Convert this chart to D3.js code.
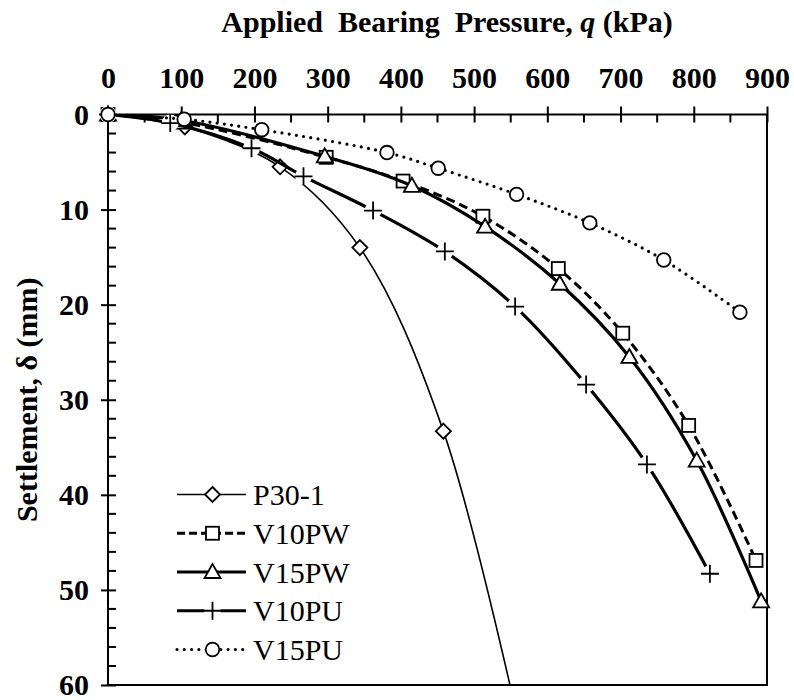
<!DOCTYPE html>
<html>
<head>
<meta charset="utf-8">
<script src="https://cdn.jsdelivr.net/npm/d3@7"></script>
<style>
  body { margin: 0; background: #fff; }
  svg text { font-family: "Liberation Serif", "Times New Roman", serif; fill: #000; }
</style>
</head>
<body>
<script>
// valeurs (q en kPa, tassement en mm)
const xTicks = [0, 100, 200, 300, 400, 500, 600, 700, 800, 900];
const yTicks = [0, 10, 20, 30, 40, 50, 60];
const seriesNames = ["P30-1", "V10PW", "V15PW", "V10PU", "V15PU"];

// la derniere valeur de P30-1 sort du cadre (courbe coupee en bas)
const qP30 = [0, 105, 235, 344, 458, 595];
const dP30 = [0, 1.3, 5.5, 14.0, 33.3, 76];

const qV10PW = [0, 100, 298, 403, 512, 615, 703, 793, 885];
const dV10PW = [0, 0.8, 4.5, 7.0, 10.7, 16.2, 23.0, 32.7, 46.9];

const qV15PW = [0, 100, 296, 415, 515, 617, 712, 804, 892];
const dV15PW = [0, 0.6, 4.4, 7.5, 11.8, 17.8, 25.5, 36.4, 51.2];

const qV10PU = [0, 85, 196, 267, 362, 460, 556, 653, 736, 822];
const dV10PU = [0, 0.9, 3.55, 6.5, 10.1, 14.4, 20.2, 28.4, 36.8, 48.3];

const qV15PU = [0, 104, 210, 381, 451, 558, 658, 759, 863];
const dV15PU = [0, 0.5, 1.6, 4.0, 5.65, 8.4, 11.4, 15.3, 20.8];

const width = 794, height = 700;
const plot = { left: 108, right: 767, top: 114.5, bottom: 685 };
const serif = "'Liberation Serif', 'Times New Roman', serif";

const x = d3.scaleLinear().domain([0, 900]).range([plot.left, plot.right]);
const y = d3.scaleLinear().domain([0, 60]).range([plot.top, plot.bottom]);

const styles = {
    "P30-1": { marker: "diamond", width: 1.6, dash: null },
    "V10PW": { marker: "square", width: 3, dash: "9 5" },
    "V15PW": { marker: "triangle", width: 3.2, dash: null },
    "V10PU": { marker: "plus", width: 3.2, dash: null },
    "V15PU": { marker: "circle", width: 3.2, dash: "0 7.3" }
};

const allQ = [qP30, qV10PW, qV15PW, qV10PU, qV15PU];
const allD = [dP30, dV10PW, dV15PW, dV10PU, dV15PU];

let data = seriesNames.map((name, i) => ({
    name: name,
    points: allQ[i].map((q, j) => ({ q: q, d: allD[i][j] }))
}));

let svg = d3.select("body")
    .append("svg")
    .attr("width", width)
    .attr("height", height)
    .attr("font-family", serif);

svg.append("defs").append("clipPath")
    .attr("id", "clip")
    .append("rect")
    .attr("x", plot.left)
    .attr("y", plot.top)
    .attr("width", plot.right - plot.left)
    .attr("height", plot.bottom - plot.top);

////////Titres
let title = svg.append("text")
    .attr("x", 447)
    .attr("y", 32)
    .attr("text-anchor", "middle")
    .attr("font-size", 30)
    .attr("font-weight", "bold")
    .style("white-space", "pre");
title.append("tspan").text("Applied  Bearing  Pressure, ");
title.append("tspan").attr("font-style", "italic").text("q");
title.append("tspan").text(" (kPa)");

svg.append("text")
    .attr("transform", "translate(37," + ((plot.top + plot.bottom) / 2) + ") rotate(-90)")
    .attr("text-anchor", "middle")
    .attr("font-size", 30)
    .attr("font-weight", "bold")
    .text("Settlement, \u03b4 (mm)");

////////Axes
let xAxis = svg.append("g")
    .attr("transform", "translate(0," + plot.top + ")")
    .call(d3.axisTop(x).tickValues(xTicks).tickSize(8).tickFormat(d3.format("d")))
    .attr("font-family", serif)
    .attr("font-size", 30);
xAxis.select(".domain").remove();
xAxis.selectAll(".tick line").attr("y1", 8).attr("stroke-width", 2);
xAxis.selectAll(".tick text")
    .attr("y", -27)
    .attr("dy", 0)
    .attr("font-weight", "bold");

let xMinor = d3.range(50, 900, 100);
svg.selectAll(".xminor")
    .data(xMinor)
    .enter()
    .append("line")
    .attr("x1", d => x(d)).attr("x2", d => x(d))
    .attr("y1", plot.top).attr("y2", plot.top + 8)
    .attr("stroke", "#000").attr("stroke-width", 2);

let yAxis = svg.append("g")
    .attr("transform", "translate(" + plot.left + ",0)")
    .call(d3.axisLeft(y).tickValues(yTicks).tickSize(7))
    .attr("font-family", serif)
    .attr("font-size", 30);
yAxis.select(".domain").remove();
yAxis.selectAll(".tick line").attr("x1", 8).attr("x2", -7).attr("stroke-width", 2);
yAxis.selectAll(".tick text")
    .attr("x", -19)
    .attr("dy", "0.32em")
    .attr("font-weight", "bold");

let yMinor = d3.range(2, 60, 2).filter(d => d % 10 != 0);
svg.selectAll(".yminor")
    .data(yMinor)
    .enter()
    .append("line")
    .attr("x1", plot.left).attr("x2", plot.left + 8)
    .attr("y1", d => y(d)).attr("y2", d => y(d))
    .attr("stroke", "#000").attr("stroke-width", 2);

// cadre
svg.append("rect")
    .attr("x", plot.left)
    .attr("y", plot.top)
    .attr("width", plot.right - plot.left)
    .attr("height", plot.bottom - plot.top)
    .attr("fill", "none")
    .attr("stroke", "#000")
    .attr("stroke-width", 2);

////////Marqueurs
function drawMarker(g, type, cx, cy) {
    if (type == "diamond") {
        g.append("path")
            .attr("d", `M${cx},${cy - 7.5}L${cx + 7.5},${cy}L${cx},${cy + 7.5}L${cx - 7.5},${cy}Z`)
            .attr("fill", "#fff").attr("stroke", "#000").attr("stroke-width", 1.8);
    } else if (type == "square") {
        g.append("rect")
            .attr("x", cx - 6.5).attr("y", cy - 6.5)
            .attr("width", 13).attr("height", 13)
            .attr("fill", "#fff").attr("stroke", "#000").attr("stroke-width", 1.8);
    } else if (type == "triangle") {
        g.append("path")
            .attr("d", `M${cx},${cy - 8}L${cx + 8},${cy + 6}L${cx - 8},${cy + 6}Z`)
            .attr("fill", "#fff").attr("stroke", "#000").attr("stroke-width", 1.8);
    } else if (type == "plus") {
        g.append("circle")
            .attr("cx", cx).attr("cy", cy).attr("r", 8.5)
            .attr("fill", "#fff");
        g.append("path")
            .attr("d", `M${cx - 9},${cy}H${cx + 9}M${cx},${cy - 9}V${cy + 9}`)
            .attr("stroke", "#000").attr("stroke-width", 1.8);
    } else if (type == "circle") {
        g.append("circle")
            .attr("cx", cx).attr("cy", cy).attr("r", 6.8)
            .attr("fill", "#fff").attr("stroke", "#000").attr("stroke-width", 1.8);
    }
}

////////Courbes
let line = d3.line()
    .x(d => x(d.q))
    .y(d => y(d.d))
    .curve(d3.curveCatmullRom.alpha(0.5));

data.forEach(s => {
    let st = styles[s.name];
    let g = svg.append("g");

    g.append("path")
        .datum(s.points)
        .attr("clip-path", "url(#clip)")
        .attr("d", line)
        .attr("fill", "none")
        .attr("stroke", "#000")
        .attr("stroke-width", st.width)
        .attr("stroke-linecap", s.name == "V15PU" ? "round" : "butt")
        .attr("stroke-dasharray", st.dash);

    s.points
        .filter(p => p.q <= 900 && p.d <= 60)
        .forEach(p => drawMarker(g, st.marker, x(p.q), y(p.d)));
});

////////Legende
let legend = svg.append("g");
let rowY = d3.scaleLinear().domain([0, 4]).range([494.5, 649.5]);

data.forEach((s, i) => {
    let st = styles[s.name];
    let ly = rowY(i);
    let g = legend.append("g");

    g.append("line")
        .attr("x1", 177).attr("x2", 246)
        .attr("y1", ly).attr("y2", ly)
        .attr("stroke", "#000")
        .attr("stroke-width", st.width)
        .attr("stroke-linecap", s.name == "V15PU" ? "round" : "butt")
        .attr("stroke-dasharray", st.dash == "9 5" ? "8 4" : st.dash);

    drawMarker(g, st.marker, 212.5, ly);

    g.append("text")
        .attr("x", 253)
        .attr("y", ly + 10.5)
        .attr("font-size", 30)
        .text(s.name);
});
</script>
</body>
</html>
